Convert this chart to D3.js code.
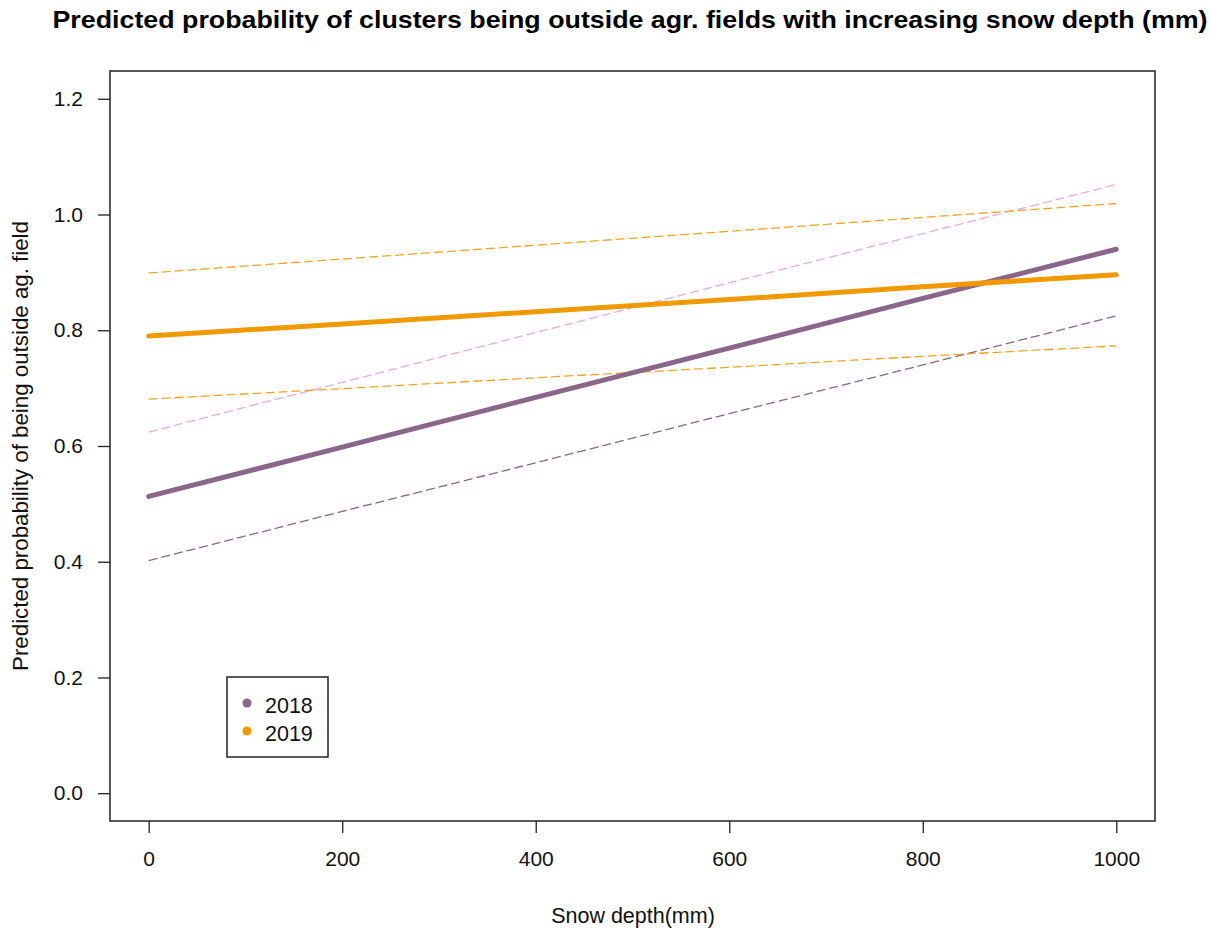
<!DOCTYPE html>
<html>
<head>
<meta charset="utf-8">
<script src="https://cdn.jsdelivr.net/npm/d3@7"></script>
<style>
  html, body { margin: 0; padding: 0; background: #fff; }
  svg { display: block; font-family: "Liberation Sans", Arial, sans-serif; }
</style>
</head>
<body>
<svg id="chart" width="1212" height="929"></svg>
<script>
// Snow depth (mm) at which predictions are reported
const snowDepth = [0, 200, 400, 600, 800, 1000];

// 2018: fitted probability with lower / upper confidence bounds
const fit2018   = [0.513, 0.598, 0.684, 0.769, 0.855, 0.940];
const lower2018 = [0.402, 0.487, 0.571, 0.656, 0.740, 0.825];
const upper2018 = [0.624, 0.710, 0.796, 0.882, 0.967, 1.052];

// 2019: fitted probability with lower / upper confidence bounds
const fit2019   = [0.790, 0.811, 0.832, 0.853, 0.875, 0.896];
const lower2019 = [0.681, 0.699, 0.718, 0.736, 0.755, 0.773];
const upper2019 = [0.899, 0.923, 0.947, 0.971, 0.995, 1.019];

const xTicks = [0, 200, 400, 600, 800, 1000];
const yTicks = [0.0, 0.2, 0.4, 0.6, 0.8, 1.0, 1.2];
const years = ["2018", "2019"];

const colPurple = "#8b668b";
const colPlum = "#e8a9ec";
const colOrange = "#f09a00";

const svg = d3.select("#chart");
const box = { left: 110, right: 1155, top: 71, bottom: 821 };

// R-style axis ranges: data limits padded by 4% on each side
const x = d3.scaleLinear().domain([-40, 1040]).range([box.left, box.right]);
const y = d3.scaleLinear().domain([-0.048, 1.248]).range([box.bottom, box.top]);

const line = d3.line().x(d => x(d[0])).y(d => y(d[1]));
const pairs = vals => snowDepth.map((s, i) => [s, vals[i]]);

// confidence bounds (dashed)
const bounds = [
  { vals: upper2018, color: colPlum },
  { vals: lower2018, color: colPurple },
  { vals: upper2019, color: "#f3a521" },
  { vals: lower2019, color: "#f3a521" }
];
svg.append("g").selectAll("path").data(bounds).join("path")
  .attr("d", d => line(pairs(d.vals)))
  .attr("fill", "none")
  .attr("stroke", d => d.color)
  .attr("stroke-width", 1.3)
  .attr("stroke-dasharray", "9,4");

// fitted lines
const fits = [
  { vals: fit2018, color: colPurple },
  { vals: fit2019, color: colOrange }
];
svg.append("g").selectAll("path").data(fits).join("path")
  .attr("d", d => line(pairs(d.vals)))
  .attr("fill", "none")
  .attr("stroke", d => d.color)
  .attr("stroke-width", 5)
  .attr("stroke-linecap", "round");

// plot frame
svg.append("rect")
  .attr("x", box.left).attr("y", box.top)
  .attr("width", box.right - box.left).attr("height", box.bottom - box.top)
  .attr("fill", "none").attr("stroke", "#222").attr("stroke-width", 1.5);

// x axis
const xAxis = svg.append("g")
  .attr("transform", `translate(0,${box.bottom})`)
  .call(d3.axisBottom(x).tickValues(xTicks).tickSize(12).tickPadding(18).tickFormat(d3.format("d")));
xAxis.select(".domain").remove();
xAxis.selectAll("line").attr("stroke", "#222").attr("stroke-width", 1.3);
xAxis.selectAll("text").attr("font-size", 21).attr("fill", "#111")
  .attr("font-family", "Liberation Sans, Arial, sans-serif");

// y axis
const yAxis = svg.append("g")
  .attr("transform", `translate(${box.left},0)`)
  .call(d3.axisLeft(y).tickValues(yTicks).tickSize(12).tickPadding(15).tickFormat(d3.format(".1f")));
yAxis.select(".domain").remove();
yAxis.selectAll("line").attr("stroke", "#222").attr("stroke-width", 1.3);
yAxis.selectAll("text").attr("font-size", 21).attr("fill", "#111")
  .attr("font-family", "Liberation Sans, Arial, sans-serif");

// title and axis titles
svg.append("text")
  .attr("x", 630).attr("y", 28)
  .attr("text-anchor", "middle")
  .attr("font-size", 24).attr("font-weight", "bold").attr("fill", "#000")
  .attr("textLength", 1155).attr("lengthAdjust", "spacingAndGlyphs")
  .text("Predicted probability of clusters being outside agr. fields with increasing snow depth (mm)");

svg.append("text")
  .attr("x", 633).attr("y", 923)
  .attr("text-anchor", "middle")
  .attr("font-size", 21.5).attr("fill", "#111")
  .text("Snow depth(mm)");

svg.append("text")
  .attr("transform", `translate(28,${(box.top + box.bottom) / 2}) rotate(-90)`)
  .attr("text-anchor", "middle")
  .attr("font-size", 22.3).attr("fill", "#111")
  .text("Predicted probability of being outside ag. field");

// legend
const legend = svg.append("g");
legend.append("rect")
  .attr("x", 227).attr("y", 677).attr("width", 101).attr("height", 80)
  .attr("fill", "#fff").attr("stroke", "#222").attr("stroke-width", 1.5);
const items = legend.selectAll("g.item").data(years).join("g")
  .attr("class", "item")
  .attr("transform", (d, i) => `translate(247,${703 + i * 28})`);
items.append("circle").attr("r", 4.5)
  .attr("fill", (d, i) => [colPurple, colOrange][i]);
items.append("text").attr("x", 18).attr("y", 10)
  .attr("font-size", 21.5).attr("fill", "#111").text(d => d);
</script>
</body>
</html>
